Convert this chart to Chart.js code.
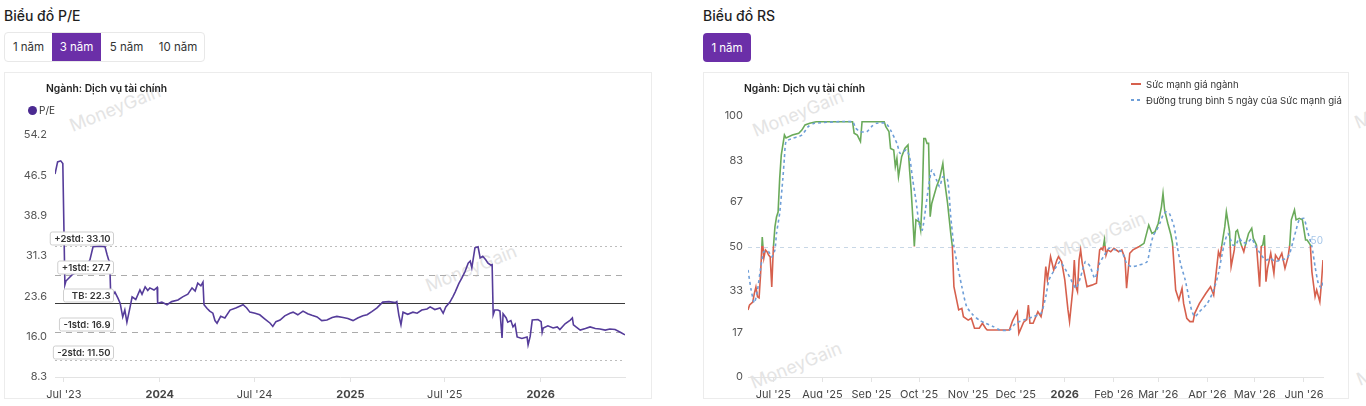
<!DOCTYPE html>
<html lang="vi">
<head>
<meta charset="utf-8">
<title>Biểu đồ P/E và RS</title>
<script src="https://cdn.jsdelivr.net/npm/chart.js@4.4.1/dist/chart.umd.min.js"></script>
<style>
  html, body { margin: 0; padding: 0; }
  body { width: 1366px; height: 406px; position: relative; overflow: hidden; background: #fff;
         font-family: Inter, "Noto Sans", sans-serif; color: #222; }
  .head { position: absolute; top: 8px; font-size: 14px; line-height: 16px; font-weight: 500; color: #1f1f1f; }
  .group { position: absolute; left: 4px; top: 32px; height: 30px; display: flex; border: 1px solid #e8e8e8;
           border-radius: 4px; box-sizing: border-box; overflow: hidden; }
  .group span, .solo { display: flex; align-items: center; justify-content: center; font-size: 11.5px; color: #333; }
  .group .on, .solo { background: #6b2fa8; color: #fff; }
  .solo { position: absolute; left: 703px; top: 33px; width: 48px; height: 29px; border-radius: 4px; }
  .card { position: absolute; top: 72px; height: 327px; border: 1px solid #ececec; box-sizing: border-box; z-index: 1; }
  .card canvas { position: absolute; left: 0; top: 0; }
  .ctitle { position: absolute; top: 8px; font-size: 10.3px; line-height: 14px; font-weight: 600; color: #222; white-space: nowrap; }
  .peleg { position: absolute; left: 23px; top: 31px; display: flex; align-items: center; font-size: 10px; color: #333; }
  .peleg i { width: 9px; height: 9px; border-radius: 50%; background: #4b2a91; margin-right: 2px; }
  .rsleg { position: absolute; left: 427px; top: 3px; font-size: 9.6px; color: #333; white-space: nowrap; }
  .rsleg div { display: flex; align-items: center; height: 16px; }
  .rsleg i { width: 10px; height: 2px; margin-right: 5px; flex: none; }
  .wm { position: absolute; font-size: 18px; color: #e4e4e4; white-space: nowrap; z-index: 0;
        transform: translate(-50%, -50%) rotate(-22deg); }
</style>
</head>
<body>
<div class="head" style="left:4px">Biểu đồ P/E</div>
<div class="group">
  <span style="width:47px">1 năm</span>
  <span class="on" style="width:49px">3 năm</span>
  <span style="width:51px">5 năm</span>
  <span style="width:52px">10 năm</span>
</div>
<div class="head" style="left:703px">Biểu đồ RS</div>
<div class="solo">1 năm</div>

<div class="wm" style="left:115px;top:108px">MoneyGain</div>
<div class="wm" style="left:471px;top:268px">MoneyGain</div>
<div class="wm" style="left:798px;top:113px">MoneyGain</div>
<div class="wm" style="left:1100px;top:235px">MoneyGain</div>
<div class="wm" style="left:796px;top:365px">MoneyGain</div>
<div class="wm" style="left:1400px;top:105px">MoneyGain</div>
<div class="wm" style="left:1402px;top:362px">MoneyGain</div>

<div class="card" style="left:4px;width:648px">
  <canvas id="peChart" width="646" height="325"></canvas>
  <div class="ctitle" style="left:41px">Ngành: Dịch vụ tài chính</div>
  <div class="peleg"><i></i>P/E</div>
</div>
<div class="card" style="left:703px;width:646px">
  <canvas id="rsChart" width="644" height="325"></canvas>
  <div class="ctitle" style="left:40px">Ngành: Dịch vụ tài chính</div>
  <div class="rsleg">
    <div><i style="background:#d6604d"></i>Sức mạnh giá ngành</div>
    <div><i style="background:repeating-linear-gradient(to right,#6f9fd8 0 3px,transparent 3px 6px)"></i>Đường trung bình 5 ngày của Sức mạnh giá</div>
  </div>
</div>

<script>
// P/E chart data
const peDates = [
  '2023-06-14','2023-06-19','2023-06-25','2023-06-29','2023-07-03','2023-07-05','2023-07-18','2023-08-01',
  '2023-08-10','2023-08-20','2023-08-26','2023-09-08','2023-09-18','2023-09-22','2023-09-25','2023-09-27',
  '2023-09-29','2023-10-03','2023-10-07','2023-10-13','2023-10-17','2023-10-22','2023-10-26','2023-10-30',
  '2023-11-05','2023-11-09','2023-11-16','2023-11-24','2023-11-28','2023-12-04','2023-12-09','2023-12-13',
  '2023-12-21','2023-12-27','2023-12-28','2024-01-05','2024-01-15','2024-01-24','2024-02-05','2024-02-14',
  '2024-02-24','2024-03-03','2024-03-09','2024-03-14','2024-03-20','2024-03-24','2024-03-26','2024-04-01',
  '2024-04-06','2024-04-12','2024-04-16','2024-04-20','2024-04-27','2024-05-05','2024-05-15','2024-05-26',
  '2024-06-09','2024-06-16','2024-06-22','2024-07-02','2024-07-11','2024-07-21','2024-07-31','2024-08-05',
  '2024-08-11','2024-08-19','2024-08-28','2024-09-07','2024-09-13','2024-09-22','2024-10-02','2024-10-11',
  '2024-10-19','2024-10-29','2024-11-07','2024-11-17','2024-11-27','2024-12-06','2024-12-18','2024-12-27',
  '2025-01-06','2025-01-15','2025-01-25','2025-02-02','2025-02-11','2025-02-21','2025-03-04','2025-03-16',
  '2025-03-28','2025-03-31','2025-04-04','2025-04-08','2025-04-12','2025-04-21','2025-05-01','2025-05-09',
  '2025-05-18','2025-05-28','2025-06-03','2025-06-12','2025-06-22','2025-06-28','2025-07-03','2025-07-11',
  '2025-07-17','2025-07-21','2025-07-28','2025-08-03','2025-08-09','2025-08-15','2025-08-19','2025-08-22',
  '2025-08-28','2025-09-03','2025-09-07','2025-09-12','2025-09-18','2025-09-22','2025-09-28','2025-09-30',
  '2025-10-02','2025-10-05','2025-10-11','2025-10-15','2025-10-19','2025-10-21','2025-10-27','2025-10-30',
  '2025-11-05','2025-11-09','2025-11-13','2025-11-17','2025-11-26','2025-12-06','2025-12-08','2025-12-12',
  '2025-12-16','2025-12-27','2026-01-02','2026-01-04','2026-01-06','2026-01-15','2026-01-25','2026-02-02',
  '2026-02-07','2026-02-17','2026-02-27','2026-03-03','2026-03-05','2026-03-10','2026-03-18','2026-03-28',
  '2026-04-06','2026-04-16','2026-04-25','2026-05-05','2026-05-14','2026-05-24','2026-06-03','2026-06-12'
];
const peValues = [
  46.8, 49.1, 49.3, 48.8, 25.8, 26.5, 27.8, 28.5,
  29.0, 30.5, 33.0, 33.1, 33.0, 31.5, 30.5, 30.2,
  23.5, 23.8, 24.4, 23.2, 22.3, 19.7, 21.0, 18.7,
  21.5, 23.5, 23.0, 24.8, 24.0, 25.4, 24.7, 25.2,
  24.8, 25.3, 22.3, 22.5, 22.0, 22.6, 22.9, 23.5,
  24.0, 25.2, 24.6, 26.1, 25.6, 26.3, 22.0, 21.3,
  20.8, 20.4, 19.0, 18.5, 19.8, 19.5, 21.0, 21.4,
  22.0, 21.4, 20.6, 20.4, 20.1, 19.3, 18.5, 17.9,
  18.8, 19.1, 19.9, 20.4, 20.6, 20.1, 20.8, 20.3,
  20.0, 19.7, 19.0, 19.1, 19.6, 19.8, 19.6, 19.4,
  19.0, 19.5, 19.9, 20.1, 20.7, 21.4, 22.5, 22.6,
  22.4, 22.6, 20.0, 18.2, 20.6, 20.2, 20.6, 20.4,
  21.0, 21.2, 21.6, 21.1, 21.4, 20.4, 21.6, 22.5,
  23.6, 24.4, 26.0, 27.1, 28.3, 29.9, 30.3, 29.0,
  32.8, 33.0, 30.9, 31.2, 30.5, 29.9, 29.5, 29.6,
  20.1, 21.0, 21.0, 20.8, 15.7, 20.3, 19.5, 18.7,
  19.0, 17.8, 18.3, 15.9, 15.6, 15.9, 14.4, 16.0,
  19.1, 19.2, 18.8, 16.8, 17.6, 18.0, 17.6, 17.8,
  17.3, 18.4, 19.1, 19.5, 18.2, 17.8, 17.2, 17.5,
  17.8, 17.5, 17.4, 17.2, 17.4, 17.3, 16.8, 16.3
];
const peTickDates = ['2023-07-01', '2024-01-01', '2024-07-01', '2025-01-01', '2025-07-01', '2026-01-01'];
const peTickLabels = ["Jul '23", '2024', "Jul '24", '2025', "Jul '25", '2026'];
const peYTicks = [8.3, 16.0, 23.6, 31.3, 38.9, 46.5, 54.2];
const stdTexts = ['+2std: 33.10', '+1std: 27.7', 'TB: 22.3', '-1std: 16.9', '-2std: 11.50'];
const stdValues = [33.10, 27.7, 22.3, 16.9, 11.50];

// RS chart data
const rsDates = [
  '2025-06-15','2025-06-16','2025-06-18','2025-06-19','2025-06-20','2025-06-21','2025-06-22','2025-06-23',
  '2025-06-24','2025-06-25','2025-06-26','2025-06-27','2025-06-28','2025-06-29','2025-06-30','2025-07-01',
  '2025-07-02','2025-07-03','2025-07-04','2025-07-05','2025-07-06','2025-07-08','2025-07-09','2025-07-13',
  '2025-07-17','2025-07-19','2025-07-21','2025-07-24','2025-07-28','2025-08-20','2025-08-21','2025-08-23',
  '2025-08-25','2025-08-26','2025-09-09','2025-09-10','2025-09-12','2025-09-13','2025-09-15','2025-09-16',
  '2025-09-17','2025-09-18','2025-09-20','2025-09-22','2025-09-24','2025-09-25','2025-09-26','2025-09-27',
  '2025-09-28','2025-09-29','2025-10-01','2025-10-02','2025-10-03','2025-10-04','2025-10-05','2025-10-06',
  '2025-10-07','2025-10-08','2025-10-09','2025-10-12','2025-10-14','2025-10-16','2025-10-17','2025-10-19',
  '2025-10-21','2025-10-22','2025-10-23','2025-10-26','2025-10-28','2025-10-29','2025-11-01','2025-11-03',
  '2025-11-04','2025-11-05','2025-11-08','2025-11-10','2025-11-12','2025-11-13','2025-11-27','2025-11-29',
  '2025-12-02','2025-12-03','2025-12-06','2025-12-08','2025-12-09','2025-12-10','2025-12-12','2025-12-15',
  '2025-12-17','2025-12-18','2025-12-20','2025-12-21','2025-12-23','2025-12-25','2025-12-27','2025-12-28',
  '2025-12-30','2026-01-01','2026-01-03','2026-01-04','2026-01-06','2026-01-07','2026-01-08','2026-01-09',
  '2026-01-10','2026-01-11','2026-01-12','2026-01-15','2026-01-18','2026-01-21','2026-01-23','2026-01-24',
  '2026-01-25','2026-01-26','2026-01-27','2026-01-28','2026-01-30','2026-02-01','2026-02-04','2026-02-06',
  '2026-02-08','2026-02-09','2026-02-11','2026-02-13','2026-02-17','2026-02-20','2026-02-23','2026-02-25',
  '2026-02-27','2026-03-01','2026-03-03','2026-03-04','2026-03-05','2026-03-07','2026-03-09','2026-03-10',
  '2026-03-12','2026-03-14','2026-03-16','2026-03-17','2026-03-19','2026-03-21','2026-03-23','2026-03-24',
  '2026-03-27','2026-03-31','2026-04-03','2026-04-05','2026-04-08','2026-04-09','2026-04-10','2026-04-12',
  '2026-04-13','2026-04-15','2026-04-16','2026-04-18','2026-04-19','2026-04-20','2026-04-22','2026-04-24',
  '2026-04-25','2026-04-27','2026-04-29','2026-04-30','2026-05-02','2026-05-04','2026-05-05','2026-05-06',
  '2026-05-07','2026-05-08','2026-05-09','2026-05-11','2026-05-13','2026-05-14','2026-05-16','2026-05-18',
  '2026-05-20','2026-05-22','2026-05-23','2026-05-24','2026-05-26','2026-05-27','2026-05-29','2026-05-31',
  '2026-06-02','2026-06-03','2026-06-05','2026-06-06','2026-06-08','2026-06-09','2026-06-11','2026-06-12',
  '2026-06-13'
];
const rsValues = [
  25.7, 27.6, 28.7, 32.0, 34.5, 30.7, 30.3, 40.0,
  53.6, 45.6, 48.7, 48.0, 46.7, 46.0, 34.5, 49.4,
  57.5, 61.3, 63.2, 76.0, 85.0, 92.7, 91.6, 92.7,
  93.4, 94.6, 96.6, 97.2, 97.8, 97.8, 93.4, 92.7,
  90.2, 97.8, 97.8, 95.9, 94.0, 87.6, 87.0, 80.6,
  83.8, 76.7, 84.4, 87.6, 88.9, 79.3, 71.6, 61.4,
  50.0, 60.2, 59.5, 56.3, 67.8, 91.4, 91.4, 89.5,
  89.5, 61.4, 66.5, 72.9, 76.1, 81.8, 75.5, 66.5,
  55.0, 50.0, 34.6, 25.7, 26.3, 23.1, 21.8, 22.5,
  20.6, 18.7, 18.7, 20.6, 18.7, 18.0, 18.0, 21.5,
  25.0, 16.7, 21.0, 22.0, 27.6, 20.6, 20.6, 25.0,
  23.1, 26.3, 42.3, 37.2, 46.1, 41.0, 44.8, 46.1,
  44.2, 37.2, 25.7, 21.2, 33.3, 44.8, 34.6, 32.7,
  44.8, 48.7, 43.6, 34.6, 35.2, 35.9, 48.7, 49.3,
  48.7, 52.5, 46.7, 48.7, 48.0, 49.3, 48.0, 48.7,
  45.4, 34.0, 47.4, 48.7, 50.0, 51.2, 58.2, 55.0,
  55.7, 58.9, 65.2, 70.3, 64.0, 58.9, 54.4, 51.2,
  33.3, 29.5, 34.0, 28.2, 22.5, 21.2, 21.2, 24.4,
  28.2, 32.0, 34.6, 31.4, 48.0, 46.1, 50.0, 57.6,
  63.3, 55.7, 42.3, 48.7, 55.7, 56.3, 51.2, 48.0,
  50.6, 55.0, 57.0, 53.1, 50.6, 34.6, 50.0, 50.6,
  54.4, 36.5, 41.6, 47.4, 39.7, 46.7, 44.8, 47.4,
  41.6, 46.1, 50.6, 60.2, 64.0, 60.2, 60.8, 60.2,
  52.5, 52.5, 50.6, 40.3, 30.8, 33.3, 28.8, 35.9,
  44.8
];
const maDates = [
  '2025-06-15','2025-06-17','2025-06-19','2025-06-21','2025-06-23','2025-06-25','2025-06-28','2025-06-30',
  '2025-07-02','2025-07-03','2025-07-05','2025-07-07','2025-07-08','2025-07-09','2025-07-13','2025-07-19',
  '2025-07-23','2025-07-27','2025-08-20','2025-08-22','2025-08-25','2025-08-29','2025-09-01','2025-09-04',
  '2025-09-10','2025-09-13','2025-09-17','2025-09-19','2025-09-21','2025-09-23','2025-09-25','2025-09-27',
  '2025-09-29','2025-10-01','2025-10-03','2025-10-05','2025-10-07','2025-10-09','2025-10-12','2025-10-14',
  '2025-10-16','2025-10-19','2025-10-21','2025-10-23','2025-10-25','2025-10-28','2025-10-31','2025-11-04',
  '2025-11-08','2025-11-12','2025-11-17','2025-11-21','2025-11-27','2025-12-01','2025-12-06','2025-12-12',
  '2025-12-17','2025-12-20','2025-12-22','2025-12-26','2025-12-29','2026-01-01','2026-01-04','2026-01-08',
  '2026-01-11','2026-01-14','2026-01-17','2026-01-20','2026-01-23','2026-01-26','2026-01-29','2026-02-02',
  '2026-02-06','2026-02-09','2026-02-12','2026-02-17','2026-02-22','2026-02-24','2026-02-26','2026-02-28',
  '2026-03-02','2026-03-04','2026-03-06','2026-03-08','2026-03-11','2026-03-13','2026-03-15','2026-03-18',
  '2026-03-20','2026-03-22','2026-03-24','2026-03-27','2026-04-01','2026-04-05','2026-04-08','2026-04-10',
  '2026-04-12','2026-04-14','2026-04-17','2026-04-19','2026-04-21','2026-04-23','2026-04-26','2026-04-29',
  '2026-05-01','2026-05-05','2026-05-08','2026-05-11','2026-05-14','2026-05-17','2026-05-21','2026-05-23',
  '2026-05-25','2026-05-27','2026-05-29','2026-06-01','2026-06-03','2026-06-06','2026-06-08','2026-06-10',
  '2026-06-12','2026-06-13'
];
const maValues = [
  41.0, 33.3, 28.4, 33.3, 41.8, 48.0, 48.0, 46.0,
  48.7, 55.0, 62.8, 76.0, 84.0, 90.2, 91.4, 92.7,
  95.9, 97.2, 97.8, 95.3, 94.0, 94.0, 95.9, 97.2,
  97.2, 94.6, 89.5, 85.7, 86.3, 87.0, 84.4, 75.5,
  67.8, 58.9, 56.3, 64.0, 72.9, 79.3, 75.5, 72.9,
  76.7, 75.5, 61.4, 50.0, 43.6, 34.6, 27.0, 23.8,
  21.8, 20.6, 19.3, 18.0, 18.0, 20.6, 21.8, 23.1,
  24.4, 30.8, 37.2, 41.6, 44.2, 41.6, 38.4, 34.0,
  38.4, 44.2, 42.3, 37.8, 43.6, 46.7, 49.3, 48.7,
  48.0, 43.6, 42.3, 42.9, 44.2, 50.0, 54.4, 56.3,
  58.9, 62.0, 63.3, 62.7, 57.6, 50.0, 43.6, 37.2,
  31.4, 25.7, 23.1, 25.0, 28.2, 33.3, 39.7, 46.1,
  51.8, 55.0, 50.6, 50.6, 53.1, 51.8, 51.2, 53.1,
  50.6, 46.7, 44.8, 45.4, 44.2, 44.8, 45.4, 47.4,
  51.8, 56.3, 60.2, 60.8, 56.3, 50.0, 42.3, 35.9,
  34.0, 37.2
];
const rsTickDates = ['2025-07-01', '2025-08-01', '2025-09-01', '2025-10-01', '2025-11-01', '2025-12-01',
                     '2026-01-01', '2026-02-01', '2026-03-01', '2026-04-01', '2026-05-01', '2026-06-01'];
const rsTickLabels = ["Jul '25", "Aug '25", "Sep '25", "Oct '25", "Nov '25", "Dec '25",
                      '2026', "Feb '26", "Mar '26", "Apr '26", "May '26", "Jun '26"];
const rsYTicks = [0, 17, 33, 50, 67, 83, 100];
const rsLevel = 50;

Chart.defaults.font.family = 'Inter, "Noto Sans", sans-serif';

const toPoints = (dates, values) => dates.map((d, i) => ({ x: Date.parse(d), y: values[i] }));

function timeAxis(tickDates, tickLabels, from, to) {
  return {
    type: 'linear',
    min: Date.parse(from),
    max: Date.parse(to),
    afterBuildTicks: s => { s.ticks = tickDates.map(d => ({ value: Date.parse(d) })); },
    afterFit: s => { s.height = 21; },
    grid: { drawOnChartArea: false, drawTicks: true, tickLength: 5, color: '#e3e3e3' },
    border: { display: true, color: '#e3e3e3' },
    ticks: {
      autoSkip: false, maxRotation: 0, padding: 6, color: '#444',
      font: c => ({ size: 11, weight: /^\d{4}$/.test(tickLabels[c.index]) ? 'bold' : 'normal' }),
      callback: (v, i) => tickLabels[i]
    }
  };
}

function valueAxis(ticks, width, pad, fmt) {
  return {
    min: ticks[0],
    max: ticks[ticks.length - 1],
    afterBuildTicks: s => { s.ticks = ticks.map(v => ({ value: v })); },
    afterFit: s => { s.width = width; },
    grid: { display: false, drawTicks: false },
    border: { display: false },
    ticks: { padding: pad, color: '#555', font: { size: 11 }, callback: fmt }
  };
}

// std lines for P/E: dotted for 2std, dashed for 1std, solid for mean
const bandStyles = [
  { dash: [2, 3], color: '#bdbdbd' },
  { dash: [6, 5], color: '#ababab' },
  { dash: [], color: '#3a3a3a' },
  { dash: [6, 5], color: '#ababab' },
  { dash: [2, 3], color: '#bdbdbd' }
];
const bandPlugin = {
  id: 'bands',
  beforeDatasetsDraw(chart) {
    const { ctx, chartArea: a, scales: { y } } = chart;
    ctx.save();
    ctx.lineWidth = 1;
    stdValues.forEach((v, i) => {
      const py = Math.round(y.getPixelForValue(v)) + 0.5;
      ctx.strokeStyle = bandStyles[i].color;
      ctx.setLineDash(bandStyles[i].dash);
      ctx.beginPath();
      ctx.moveTo(a.left, py);
      ctx.lineTo(a.right, py);
      ctx.stroke();
    });
    ctx.restore();
  },
  afterDatasetsDraw(chart) {
    const { ctx, chartArea: a, scales: { y } } = chart;
    ctx.save();
    ctx.font = '600 9.5px Inter, sans-serif';
    ctx.textAlign = 'right';
    ctx.textBaseline = 'middle';
    stdTexts.forEach((t, i) => {
      const py = Math.round(y.getPixelForValue(stdValues[i]));
      const w = Math.max(ctx.measureText(t).width + 7, 50);
      const right = a.left + 58, bottom = py - 1.5, h = 13;
      ctx.fillStyle = '#fff';
      ctx.strokeStyle = '#cfcfcf';
      ctx.setLineDash([]);
      ctx.beginPath();
      ctx.roundRect(right - w + 0.5, bottom - h + 0.5, w, h, 2);
      ctx.fill();
      ctx.stroke();
      ctx.fillStyle = '#333';
      ctx.fillText(t, right - 2.5, bottom - h / 2 + 1);
    });
    ctx.restore();
  }
};

const levelPlugin = {
  id: 'level',
  beforeDatasetsDraw(chart) {
    const { ctx, chartArea: a, scales: { y } } = chart;
    const py = Math.round(y.getPixelForValue(rsLevel)) + 0.5;
    ctx.save();
    ctx.strokeStyle = '#c8d7e6';
    ctx.setLineDash([4, 4]);
    ctx.beginPath();
    ctx.moveTo(a.left, py);
    ctx.lineTo(a.right - 13, py);
    ctx.stroke();
    ctx.font = '10px Inter, sans-serif';
    ctx.fillStyle = '#a6c6e8';
    ctx.textAlign = 'right';
    ctx.textBaseline = 'bottom';
    ctx.fillText(String(rsLevel), a.right, py - 2);
    ctx.restore();
  }
};

new Chart(document.getElementById('peChart'), {
  type: 'line',
  data: {
    datasets: [{
      label: 'P/E',
      data: toPoints(peDates, peValues),
      borderColor: '#553c9a',
      backgroundColor: '#4b2a91',
      borderWidth: 1.6,
      pointRadius: 0,
      tension: 0
    }]
  },
  options: {
    responsive: false,
    animation: false,
    devicePixelRatio: 1,
    layout: { padding: { left: 4, right: 26, top: 62, bottom: 0 } },
    plugins: { legend: { display: false }, tooltip: { enabled: false } },
    scales: {
      x: timeAxis(peTickDates, peTickLabels, peDates[0], peDates[peDates.length - 1]),
      y: valueAxis(peYTicks, 46, 8, v => v.toFixed(1))
    }
  },
  plugins: [bandPlugin]
});

function rsColor(c) {
  const { chart } = c;
  const a = chart.chartArea;
  if (!a) return '#d6604d';
  const stop = (chart.scales.y.getPixelForValue(rsLevel) - a.top) / (a.bottom - a.top);
  const g = chart.ctx.createLinearGradient(0, a.top, 0, a.bottom);
  g.addColorStop(0, '#6aaa5a');
  g.addColorStop(stop, '#6aaa5a');
  g.addColorStop(stop, '#d6604d');
  g.addColorStop(1, '#d6604d');
  return g;
}

new Chart(document.getElementById('rsChart'), {
  type: 'line',
  data: {
    datasets: [{
      label: 'Đường trung bình 5 ngày của Sức mạnh giá',
      data: toPoints(maDates, maValues),
      borderColor: '#6f9fd8',
      borderDash: [3, 3],
      borderWidth: 1.6,
      pointRadius: 0,
      tension: 0.2
    }, {
      label: 'Sức mạnh giá ngành',
      data: toPoints(rsDates, rsValues),
      borderColor: rsColor,
      borderWidth: 1.6,
      pointRadius: 0,
      tension: 0
    }]
  },
  options: {
    responsive: false,
    animation: false,
    devicePixelRatio: 1,
    layout: { padding: { left: 4, right: 25, top: 43, bottom: 0 } },
    plugins: { legend: { display: false }, tooltip: { enabled: false } },
    scales: {
      x: timeAxis(rsTickDates, rsTickLabels, rsDates[0], rsDates[rsDates.length - 1]),
      y: valueAxis(rsYTicks, 40, 5, v => String(v))
    }
  },
  plugins: [levelPlugin]
});
</script>
</body>
</html>
